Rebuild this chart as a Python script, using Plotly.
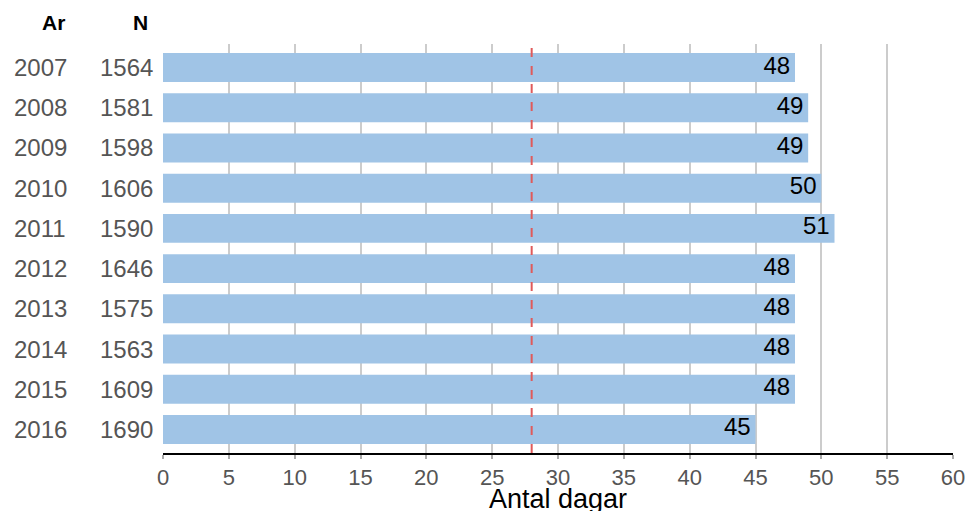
import plotly.graph_objects as go

years = ["2007", "2008", "2009", "2010", "2011", "2012", "2013", "2014", "2015", "2016"]
n_values = ["1564", "1581", "1598", "1606", "1590", "1646", "1575", "1563", "1609", "1690"]
days = [48, 49, 49, 50, 51, 48, 48, 48, 48, 45]
target = 28
x_ticks = list(range(0, 61, 5))

FONT = "Liberation Sans, Arial"
W, H = 969, 511
ml, mr, mt, mb = 163, 16, 44, 58
pw = W - ml - mr
ph = H - mt - mb
nrows = len(years)
pad = 0.585

fig = go.Figure()
fig.add_trace(go.Bar(
    y=years, x=days, orientation="h",
    marker=dict(color="#a0c4e6", line=dict(width=0)),
    width=0.72, hoverinfo="skip",
))
fig.add_trace(go.Scatter(
    y=years, x=days, mode="text",
    text=[str(d) + "\u2009" for d in days], textposition="middle left",
    textfont=dict(size=24, color="black", family=FONT),
    cliponaxis=False, hoverinfo="skip",
))

fig.add_shape(type="line", xref="x", yref="paper", x0=target, x1=target, y0=0, y1=1,
              line=dict(color="#e05a5a", width=2, dash="dash"), layer="above")

annotations = []
for i, (y, n) in enumerate(zip(years, n_values)):
    idx = nrows - 1 - i
    annotations.append(dict(x=(40 - ml) / pw, y=idx, xref="paper", yref="y",
                            text=y, showarrow=False, xanchor="center", yanchor="middle",
                            font=dict(size=24, color="#555555", family=FONT)))
    annotations.append(dict(x=(155 - ml) / pw, y=idx, xref="paper", yref="y",
                            text=n, showarrow=False, xanchor="right", yanchor="middle",
                            font=dict(size=24, color="#555555", family=FONT)))
annotations.append(dict(x=(53 - ml) / pw, y=1 + 22 / ph, xref="paper", yref="paper",
                        text="<b>Ar</b>", showarrow=False, xanchor="center", yanchor="middle",
                        font=dict(size=21, color="black", family=FONT)))
annotations.append(dict(x=(140 - ml) / pw, y=1 + 22 / ph, xref="paper", yref="paper",
                        text="<b>N</b>", showarrow=False, xanchor="center", yanchor="middle",
                        font=dict(size=21, color="black", family=FONT)))
annotations.append(dict(x=0.5, y=-(482 - (H - mb)) / ph, xref="paper", yref="paper",
                        text="Antal dagar", showarrow=False, xanchor="center", yanchor="top",
                        font=dict(size=27, color="black", family=FONT)))

fig.update_layout(
    width=W, height=H,
    margin=dict(l=ml, r=mr, t=mt, b=mb),
    paper_bgcolor="white", plot_bgcolor="white",
    showlegend=False,
    annotations=annotations,
    font=dict(family=FONT),
)
fig.update_xaxes(
    range=[0, 60], tickvals=x_ticks, showgrid=True, gridcolor="#cccccc", gridwidth=2,
    showline=True, linecolor="black", linewidth=2,
    ticks="outside", ticklen=4, tickcolor="#aaaaaa", tickwidth=2,
    tickfont=dict(size=22, color="#555555"),
    zeroline=False, automargin=False,
)
fig.update_yaxes(
    type="category", categoryorder="array", categoryarray=years[::-1], autorange=False,
    range=[-pad, nrows - 1 + pad],
    showticklabels=False, showgrid=False, zeroline=False, showline=False, automargin=False,
)

fig.write_html("out.html")
